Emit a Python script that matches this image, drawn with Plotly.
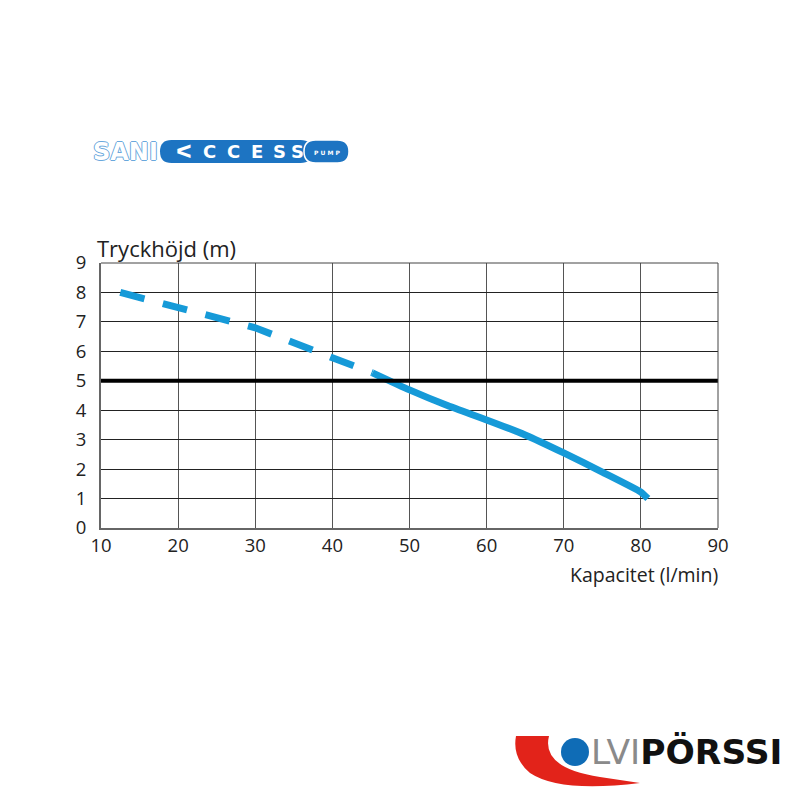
import plotly.graph_objects as go

# Data
dashed_flow = [12.5, 20, 30, 40, 45.2]
dashed_head = [8.0, 7.5, 6.8, 5.78, 5.27]
solid_flow = [45.2, 50, 55, 60, 65, 70, 75, 80, 80.9]
solid_head = [5.27, 4.69, 4.15, 3.67, 3.16, 2.55, 1.9, 1.22, 1.0]
ref_head = 5
x_ticks = [10, 20, 30, 40, 50, 60, 70, 80, 90]
y_ticks = [0, 1, 2, 3, 4, 5, 6, 7, 8, 9]

W, H = 800, 800
OFF = 8  # page body margin
L, R, T, B = 101, 718, 263, 528  # plot area in screen pixels

def px(x):
    return (x - L) / (R - L)

def py(y):
    return (B - y) / (B - T)

CURVE = "#169ad8"
FONT = "Open Sans"
TXT = "#222222"

fig = go.Figure()
fig.add_trace(go.Scatter(x=dashed_flow, y=dashed_head, mode="lines",
                         line=dict(color=CURVE, width=7, dash="25px,19px"),
                         hoverinfo="skip", showlegend=False))
fig.add_trace(go.Scatter(x=solid_flow, y=solid_head, mode="lines",
                         line=dict(color=CURVE, width=7, shape="spline", smoothing=0.5),
                         hoverinfo="skip", showlegend=False))
fig.add_trace(go.Scatter(x=[x_ticks[0], x_ticks[-1]], y=[ref_head, ref_head], mode="lines",
                         line=dict(color="black", width=4),
                         hoverinfo="skip", showlegend=False))

fig.update_layout(
    width=W, height=H,
    margin=dict(l=L - OFF, r=W - (R - OFF), t=T - OFF, b=H - (B - OFF)),
    paper_bgcolor="white", plot_bgcolor="white",
    font=dict(family=FONT, size=18.5, color=TXT),
    xaxis=dict(range=[10, 90], tickvals=x_ticks, showgrid=True, gridcolor="#555555",
               gridwidth=1, showline=True, linecolor="#666666", linewidth=2, mirror=False,
               zeroline=False, ticks="", ticklabelstandoff=0, fixedrange=True),
    yaxis=dict(range=[0, 9], tickvals=y_ticks, showgrid=True, gridcolor="#222222",
               gridwidth=1, showline=True, linecolor="#666666", linewidth=2, mirror=False,
               zeroline=False, ticks="", ticklabelstandoff=9, fixedrange=True),
)

shapes = []
shapes.append(dict(type="line", xref="paper", yref="paper", x0=0, x1=1, y0=1, y1=1,
                   line=dict(color="#444444", width=1)))
shapes.append(dict(type="line", xref="paper", yref="paper", x0=1, x1=1, y0=0, y1=1,
                   line=dict(color="#444444", width=1)))

LOGO_BLUE = "#1d74c2"
def pill_path(x0, y0, x1, y1):
    r = (y1 - y0) / 2
    return (f"M {px(x0 + r)},{py(y0)} L {px(x1 - r)},{py(y0)} "
            f"Q {px(x1)},{py(y0)} {px(x1)},{py(y0 + r)} Q {px(x1)},{py(y1)} {px(x1 - r)},{py(y1)} "
            f"L {px(x0 + r)},{py(y1)} Q {px(x0)},{py(y1)} {px(x0)},{py(y0 + r)} "
            f"Q {px(x0)},{py(y0)} {px(x0 + r)},{py(y0)} Z")
shapes.append(dict(type="path", xref="paper", yref="paper", path=pill_path(160, 140, 312, 163),
                   fillcolor=LOGO_BLUE, line=dict(width=0)))
shapes.append(dict(type="path", xref="paper", yref="paper", path=pill_path(304, 140, 349, 163),
                   fillcolor=LOGO_BLUE, line=dict(color="white", width=1.5)))

swoosh = (f"M {px(516)},{py(736)} L {px(549)},{py(736)} "
          f"Q {px(541)},{py(768)} {px(600)},{py(777)} L {px(640)},{py(783)} "
          f"Q {px(560)},{py(793)} {px(530)},{py(773)} Q {px(512)},{py(758)} {px(516)},{py(736)} Z")
shapes.append(dict(type="path", xref="paper", yref="paper", path=swoosh,
                   fillcolor="#e2231a", line=dict(width=0)))
shapes.append(dict(type="circle", xref="paper", yref="paper",
                   x0=px(561), x1=px(589), y0=py(738), y1=py(766),
                   fillcolor="#0f6cb6", line=dict(width=0)))
fig.update_layout(shapes=shapes)

ann = []
ann.append(dict(x=px(95), y=py(248), xref="paper", yref="paper", text="Tryckhöjd (m)",
                showarrow=False, xanchor="left", yanchor="middle",
                font=dict(family=FONT, size=22, color=TXT)))
ann.append(dict(x=px(720), y=py(574), xref="paper", yref="paper", text="Kapacitet (l/min)",
                showarrow=False, xanchor="right", yanchor="middle",
                font=dict(family=FONT, size=19.5, color=TXT)))
ann.append(dict(x=px(91), y=py(152), xref="paper", yref="paper", text="<b>SANI</b>",
                showarrow=False, xanchor="left", yanchor="middle",
                font=dict(family="DejaVu Sans", size=24, color="white",
                          shadow="1px 0 0 #6aa8dc, -1px 0 0 #6aa8dc, 0 1px 0 #6aa8dc, 0 -1px 0 #6aa8dc")))
access_letters = ["ᐸ", "C", "C", "E", "S", "S"]
access_x = [184, 209, 233, 257, 279, 297]
for ch, xx in zip(access_letters, access_x):
    ann.append(dict(x=px(xx), y=py(151), xref="paper", yref="paper", text=f"<b>{ch}</b>",
                    showarrow=False, xanchor="center", yanchor="middle",
                    font=dict(family="DejaVu Sans", size=18, color="white")))
ann.append(dict(x=px(327), y=py(152), xref="paper", yref="paper", text="<b>P U M P</b>",
                showarrow=False, xanchor="center", yanchor="middle",
                font=dict(family="DejaVu Sans", size=6, color="white")))
ann.append(dict(x=px(589), y=py(752), xref="paper", yref="paper",
                text="<span style='color:#8a8a8a'>LVI</span><b>PÖRSSI</b>",
                showarrow=False, xanchor="left", yanchor="middle",
                font=dict(family="DejaVu Sans", size=34.5, color="#111111")))
fig.update_layout(annotations=ann)

fig.write_html("out.html")
